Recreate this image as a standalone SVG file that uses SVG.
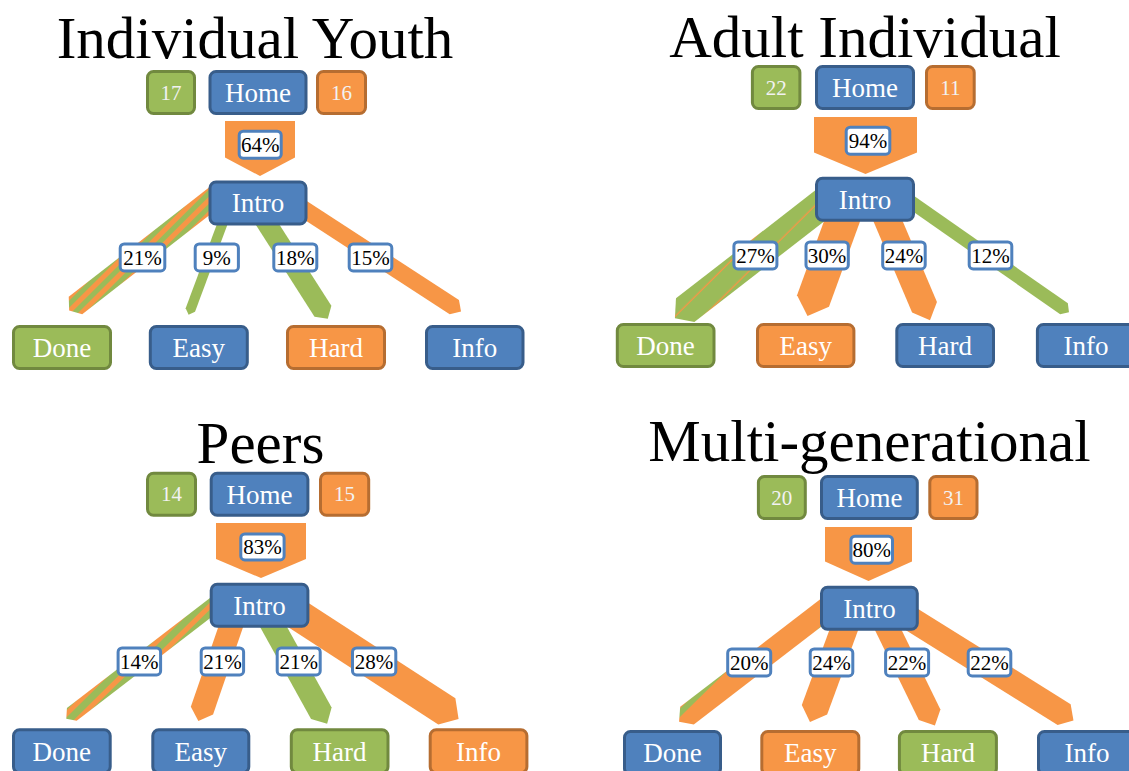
<svg xmlns="http://www.w3.org/2000/svg" width="1129" height="771" viewBox="0 0 1129 771">
  <style>
    .b { fill: #4F81BD; stroke: #385D8A; stroke-width: 3; }
    .g { fill: #9BBB59; stroke: #71893F; stroke-width: 3; }
    .o { fill: #F79646; stroke: #B66D31; stroke-width: 3; }
    .fo { fill: #F79646; }
    .fg { fill: #9BBB59; }
    .nt { font-family: "Liberation Serif", "Times New Roman", serif; font-size: 27px; fill: #FFFFFF; text-anchor: middle; }
    .dt { font-family: "Liberation Serif", "Times New Roman", serif; font-size: 21px; fill: #F2F2F2; text-anchor: middle; }
    .lb { fill: #FFFFFF; stroke: #4F81BD; stroke-width: 3; }
    .lt { font-family: "Liberation Serif", "Times New Roman", serif; font-size: 21px; fill: #000000; text-anchor: middle; }
    .ttl { font-family: "Liberation Serif", "Times New Roman", serif; font-size: 59px; fill: #000000; text-anchor: middle; }
  </style>
  <defs>
    <!-- striped fills for the mixed "Done" bands (in band-local coordinates) -->
    <pattern id="p1" patternUnits="userSpaceOnUse" width="20" height="10" patternTransform="rotate(-7)">
      <rect width="20" height="10" fill="#9BBB59"/>
      <rect width="20" height="5" fill="#F79646"/>
    </pattern>
    <pattern id="p2" patternUnits="userSpaceOnUse" width="20" height="20" patternTransform="rotate(-7) translate(0,4)">
      <rect width="20" height="20" fill="#9BBB59"/>
      <rect width="20" height="1.3" fill="#F79646"/>
    </pattern>
    <pattern id="p3" patternUnits="userSpaceOnUse" width="20" height="12" patternTransform="rotate(-7)">
      <rect width="20" height="12" fill="#9BBB59"/>
      <rect width="20" height="5" fill="#F79646"/>
    </pattern>
    <pattern id="p4" patternUnits="userSpaceOnUse" width="20" height="40" patternTransform="rotate(-7) translate(0,26)">
      <rect width="20" height="40" fill="#F79646"/>
      <rect width="20" height="6" fill="#9BBB59"/>
    </pattern>
  </defs>

  <rect width="1129" height="771" fill="#FFFFFF"/>

  <!-- titles -->
  <text class="ttl" x="255" y="58">Individual Youth</text>
  <text class="ttl" x="865" y="57">Adult Individual</text>
  <text class="ttl" x="260.5" y="463">Peers</text>
  <text class="ttl" x="869.5" y="461">Multi-generational</text>

  <!-- flow bands, entry arrows and percentage labels -->
  <g id="connectors">
    <!-- Individual Youth -->
    <polygon class="fo" points="225,121 295,121 295,157.5 260,176 225,157.5"/>
    <polygon fill="url(#p1)" transform="translate(218.3,194.3) rotate(142.1)" points="0,-11 181,-11 189,0 181,11 0,11"/>
    <polygon class="fg" transform="translate(225.2,216.3) rotate(110.4)" points="0,-5 100,-5 105,0 100,5 0,5"/>
    <polygon class="fg" transform="translate(262.6,216.9) rotate(57.4)" points="0,-10 112,-10 121,0 112,10 0,10"/>
    <polygon class="fo" transform="translate(297.5,205.2) rotate(33)" points="0,-8.5 187,-8.5 195,0 187,8.5 0,8.5"/>
    <rect class="lb" x="239.2" y="131.2" width="42" height="27" rx="4"/>
    <text class="lt" x="260.2" y="151.8">64%</text>
    <rect class="lb" x="120.2" y="243.9" width="44.6" height="27" rx="4"/>
    <text class="lt" x="142.5" y="264.7">21%</text>
    <rect class="lb" x="195.2" y="243.9" width="43.2" height="27" rx="4"/>
    <text class="lt" x="216.8" y="264.7">9%</text>
    <rect class="lb" x="273.8" y="243.9" width="43" height="27" rx="4"/>
    <text class="lt" x="295.3" y="264.7">18%</text>
    <rect class="lb" x="349.2" y="243.9" width="42.6" height="27" rx="4"/>
    <text class="lt" x="370.5" y="264.7">15%</text>

    <!-- Adult Individual -->
    <polygon class="fo" points="814,117 917,117 917,152.5 865.5,174 814,152.5"/>
    <polygon fill="url(#p2)" transform="translate(827.4,199.9) rotate(142.2)" points="0,-15 180,-15 193,0 180,15 0,15"/>
    <polygon class="fo" transform="translate(845.5,211.7) rotate(110)" points="0,-17 95,-17 111,0 95,17 0,17"/>
    <polygon class="fo" transform="translate(883.5,210.6) rotate(67)" points="0,-13.5 105,-13.5 119,0 105,13.5 0,13.5"/>
    <polygon class="fg" transform="translate(908.2,200.1) rotate(34.9)" points="0,-6.7 190,-6.7 196,0 190,6.7 0,6.7"/>
    <rect class="lb" x="846.2" y="127.2" width="43.6" height="27" rx="4"/>
    <text class="lt" x="868" y="148">94%</text>
    <rect class="lb" x="733.9" y="241.9" width="43" height="27" rx="4"/>
    <text class="lt" x="755.4" y="262.7">27%</text>
    <rect class="lb" x="806" y="241.9" width="42.3" height="27" rx="4"/>
    <text class="lt" x="827.1" y="262.7">30%</text>
    <rect class="lb" x="882.7" y="241.9" width="42.5" height="27" rx="4"/>
    <text class="lt" x="903.9" y="262.7">24%</text>
    <rect class="lb" x="969.2" y="241.9" width="42.6" height="27" rx="4"/>
    <text class="lt" x="990.5" y="262.7">12%</text>

    <!-- Peers -->
    <polygon class="fo" points="216,523 306,523 306,559 261,578 216,559"/>
    <polygon fill="url(#p3)" transform="translate(216.8,602.8) rotate(142.4)" points="0,-8 183,-8 190,0 183,8 0,8"/>
    <polygon class="fo" transform="translate(234.5,616) rotate(109)" points="0,-11.75 100,-11.75 111,0 100,11.75 0,11.75"/>
    <polygon class="fg" transform="translate(268,617) rotate(61)" points="0,-11.75 110,-11.75 122,0 110,11.75 0,11.75"/>
    <polygon class="fo" transform="translate(294.2,612.3) rotate(33)" points="0,-15.7 182,-15.7 196,0 182,15.7 0,15.7"/>
    <rect class="lb" x="240.8" y="533.9" width="43.3" height="26" rx="4"/>
    <text class="lt" x="262.4" y="554.3">83%</text>
    <rect class="lb" x="118.1" y="647.9" width="42.5" height="27" rx="4"/>
    <text class="lt" x="139.3" y="668.7">14%</text>
    <rect class="lb" x="201.2" y="647.9" width="42.4" height="27" rx="4"/>
    <text class="lt" x="222.4" y="668.7">21%</text>
    <rect class="lb" x="277.2" y="647.9" width="43" height="27" rx="4"/>
    <text class="lt" x="298.7" y="668.7">21%</text>
    <rect class="lb" x="352.5" y="647.9" width="43.3" height="27" rx="4"/>
    <text class="lt" x="374.1" y="668.7">28%</text>

    <!-- Multi-generational -->
    <polygon class="fo" points="825,527 912,527 912,561.5 868.5,581 825,561.5"/>
    <polygon fill="url(#p4)" transform="translate(830.6,605.4) rotate(142.5)" points="0,-11.2 181,-11.2 191,0 181,11.2 0,11.2"/>
    <polygon class="fo" transform="translate(849,615.9) rotate(110.2)" points="0,-13.5 100,-13.5 113,0 100,13.5 0,13.5"/>
    <polygon class="fo" transform="translate(883.6,620.4) rotate(64)" points="0,-12 105,-12 117,0 105,12 0,12"/>
    <polygon class="fo" transform="translate(906.4,616.1) rotate(32)" points="0,-12.3 186,-12.3 197,0 186,12.3 0,12.3"/>
    <rect class="lb" x="850.9" y="536.2" width="41.6" height="27" rx="4"/>
    <text class="lt" x="871.7" y="557">80%</text>
    <rect class="lb" x="727.7" y="648.9" width="43" height="27" rx="4"/>
    <text class="lt" x="749.2" y="669.7">20%</text>
    <rect class="lb" x="810.2" y="648.9" width="42.6" height="27" rx="4"/>
    <text class="lt" x="831.5" y="669.7">24%</text>
    <rect class="lb" x="885.6" y="648.9" width="43" height="27" rx="4"/>
    <text class="lt" x="907.1" y="669.7">22%</text>
    <rect class="lb" x="968.2" y="648.9" width="42.6" height="27" rx="4"/>
    <text class="lt" x="989.5" y="669.7">22%</text>
  </g>

  <!-- Individual Youth nodes -->
  <g id="iy-in"><rect class="g" x="147.5" y="71.5" width="47" height="42" rx="6"/><text class="dt" x="171" y="99.5">17</text></g>
  <g id="iy-home"><rect class="b" x="210" y="71.5" width="96" height="42" rx="6"/><text class="nt" x="258" y="101.8">Home</text></g>
  <g id="iy-out"><rect class="o" x="317.5" y="71.5" width="48" height="42" rx="6"/><text class="dt" x="341.5" y="99.5">16</text></g>
  <g id="iy-intro"><rect class="b" x="210" y="182" width="96" height="42" rx="6"/><text class="nt" x="258" y="212.3">Intro</text></g>
  <g id="iy-done"><rect class="g" x="13.5" y="326.5" width="97" height="42" rx="6"/><text class="nt" x="62" y="356.8">Done</text></g>
  <g id="iy-easy"><rect class="b" x="150.3" y="326.5" width="97" height="42" rx="6"/><text class="nt" x="198.8" y="356.8">Easy</text></g>
  <g id="iy-hard"><rect class="o" x="287.5" y="326.5" width="97" height="42" rx="6"/><text class="nt" x="336" y="356.8">Hard</text></g>
  <g id="iy-info"><rect class="b" x="426.5" y="326.5" width="96.5" height="42" rx="6"/><text class="nt" x="474.75" y="356.8">Info</text></g>

  <!-- Adult Individual nodes -->
  <g id="ai-in"><rect class="g" x="752.4" y="66.5" width="47.5" height="42" rx="6"/><text class="dt" x="776.2" y="94.5">22</text></g>
  <g id="ai-home"><rect class="b" x="816.5" y="66.5" width="97" height="42" rx="6"/><text class="nt" x="865" y="96.8">Home</text></g>
  <g id="ai-out"><rect class="o" x="926.5" y="66.5" width="47.7" height="42" rx="6"/><text class="dt" x="950.35" y="94.5">11</text></g>
  <g id="ai-intro"><rect class="b" x="816.5" y="178.2" width="97" height="42" rx="6"/><text class="nt" x="865" y="208.5">Intro</text></g>
  <g id="ai-done"><rect class="g" x="617.3" y="324.5" width="96.7" height="42" rx="6"/><text class="nt" x="665.6" y="354.8">Done</text></g>
  <g id="ai-easy"><rect class="o" x="757.5" y="324.5" width="96.4" height="42" rx="6"/><text class="nt" x="805.7" y="354.8">Easy</text></g>
  <g id="ai-hard"><rect class="b" x="896.8" y="324.5" width="96.7" height="42" rx="6"/><text class="nt" x="945.1" y="354.8">Hard</text></g>
  <g id="ai-info"><rect class="b" x="1037.4" y="324.5" width="97" height="42" rx="6"/><text class="nt" x="1085.9" y="354.8">Info</text></g>

  <!-- Peers nodes -->
  <g id="pe-in"><rect class="g" x="147.5" y="473.2" width="48" height="42" rx="6"/><text class="dt" x="171.5" y="501.2">14</text></g>
  <g id="pe-home"><rect class="b" x="211.2" y="473.2" width="96.7" height="42" rx="6"/><text class="nt" x="259.5" y="503.5">Home</text></g>
  <g id="pe-out"><rect class="o" x="320.5" y="473.2" width="48.2" height="42" rx="6"/><text class="dt" x="344.6" y="501.2">15</text></g>
  <g id="pe-intro"><rect class="b" x="211.2" y="584.2" width="96.7" height="42" rx="6"/><text class="nt" x="259.5" y="614.5">Intro</text></g>
  <g id="pe-done"><rect class="b" x="13.5" y="729.8" width="96.7" height="43" rx="6"/><text class="nt" x="61.8" y="760.5">Done</text></g>
  <g id="pe-easy"><rect class="b" x="152.8" y="729.8" width="96" height="43" rx="6"/><text class="nt" x="200.8" y="760.5">Easy</text></g>
  <g id="pe-hard"><rect class="g" x="291.3" y="729.8" width="96.7" height="43" rx="6"/><text class="nt" x="339.6" y="760.5">Hard</text></g>
  <g id="pe-info"><rect class="o" x="430.2" y="729.8" width="96.7" height="43" rx="6"/><text class="nt" x="478.5" y="760.5">Info</text></g>

  <!-- Multi-generational nodes -->
  <g id="mg-in"><rect class="g" x="758.4" y="476.5" width="46.9" height="42" rx="6"/><text class="dt" x="781.8" y="504.5">20</text></g>
  <g id="mg-home"><rect class="b" x="821.5" y="476.5" width="95.8" height="42" rx="6"/><text class="nt" x="869.4" y="506.8">Home</text></g>
  <g id="mg-out"><rect class="o" x="929.8" y="476.5" width="47.2" height="42" rx="6"/><text class="dt" x="953.4" y="504.5">31</text></g>
  <g id="mg-intro"><rect class="b" x="821.5" y="587.2" width="95.8" height="42" rx="6"/><text class="nt" x="869.4" y="617.5">Intro</text></g>
  <g id="mg-done"><rect class="b" x="624.5" y="731.5" width="96" height="43" rx="6"/><text class="nt" x="672.5" y="762">Done</text></g>
  <g id="mg-easy"><rect class="o" x="761.8" y="731.5" width="97" height="43" rx="6"/><text class="nt" x="810.3" y="762">Easy</text></g>
  <g id="mg-hard"><rect class="g" x="899.4" y="731.5" width="97" height="43" rx="6"/><text class="nt" x="947.9" y="762">Hard</text></g>
  <g id="mg-info"><rect class="b" x="1038.5" y="731.5" width="97" height="43" rx="6"/><text class="nt" x="1087" y="762">Info</text></g>
</svg>
